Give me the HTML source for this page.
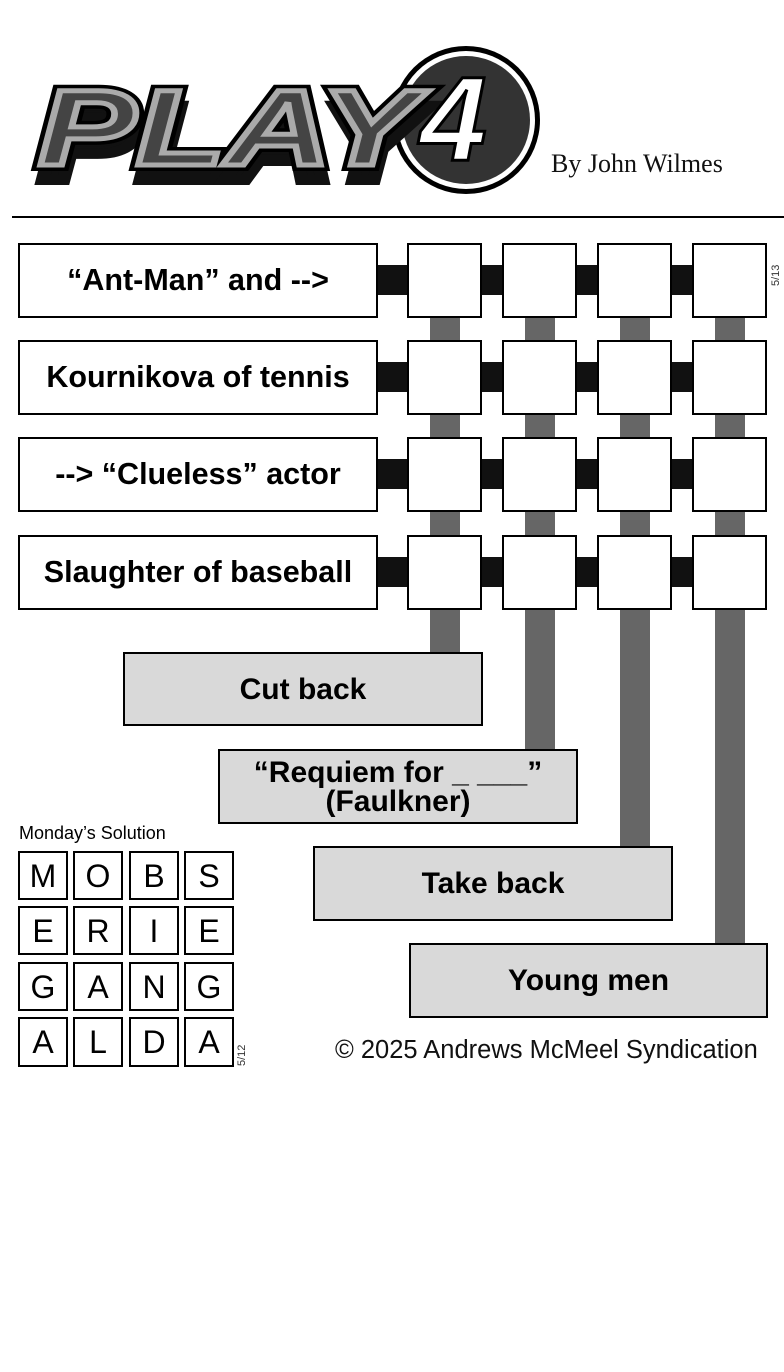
<!DOCTYPE html>
<html><head><meta charset="utf-8"><style>
body{margin:0;width:784px;height:1372px;background:#fff;position:relative;overflow:hidden;font-family:"Liberation Sans",Arial,sans-serif}
.a{position:absolute;box-sizing:border-box}
.clue{border:2px solid #000;background:#fff;display:flex;align-items:center;justify-content:center;font-weight:bold;font-size:30.5px;text-align:center;line-height:29px}
.ans{border:2px solid #000;background:#d9d9d9;display:flex;align-items:center;justify-content:center;font-weight:bold;font-size:30px;text-align:center;line-height:29px}
.cell{border:2px solid #000;background:#fff}
.h{background:#111}
.v{background:#666}
.s{border:2px solid #000;background:#fff;display:flex;align-items:center;justify-content:center;font-size:32px;line-height:32px}
</style></head><body>
<svg class="a" style="left:0;top:0" width="784" height="215">
<circle cx="466" cy="120" r="74" fill="#000"/>
<circle cx="466" cy="120" r="69" fill="#fff"/>
<circle cx="466" cy="120" r="64" fill="#333"/>
<g font-family="Liberation Sans" font-weight="bold" font-style="italic">
<text x="40" y="180" font-size="108" textLength="380" lengthAdjust="spacingAndGlyphs" fill="#111" stroke="#111" stroke-width="10">PLAY</text>
<text x="38" y="165" font-size="108" textLength="380" lengthAdjust="spacingAndGlyphs" fill="#444" stroke="#000" stroke-width="12">PLAY</text>
<text x="38" y="165" font-size="108" textLength="380" lengthAdjust="spacingAndGlyphs" fill="#444" stroke="#aaa" stroke-width="5">PLAY</text>
<text x="420" y="160" font-size="120" fill="#fff" stroke="#000" stroke-width="3">4</text>
</g>
<text x="551" y="172" font-family="Liberation Serif" font-size="26" fill="#111">By John Wilmes</text>
</svg>
<div class="a" style="left:12px;top:216px;width:772px;height:2px;background:#000"></div>
<div class="a" style="left:770px;font-size:11px;transform:rotate(-90deg);transform-origin:left top;top:286px;color:#333">5/13</div>

<div class="a v" style="left:430px;top:300px;width:30px;height:353px"></div>
<div class="a v" style="left:525px;top:300px;width:30px;height:450px"></div>
<div class="a v" style="left:620px;top:300px;width:30px;height:547px"></div>
<div class="a v" style="left:715px;top:300px;width:30px;height:644px"></div>

<div class="a h" style="left:370px;top:265px;width:390px;height:30px"></div>
<div class="a h" style="left:370px;top:362px;width:390px;height:30px"></div>
<div class="a h" style="left:370px;top:459px;width:390px;height:30px"></div>
<div class="a h" style="left:370px;top:557px;width:390px;height:30px"></div>

<div class="a clue" style="left:18px;top:243px;width:360px;height:75px">“Ant-Man” and --&gt;</div>
<div class="a clue" style="left:18px;top:340px;width:360px;height:75px">Kournikova of tennis</div>
<div class="a clue" style="left:18px;top:437px;width:360px;height:75px">--&gt; “Clueless” actor</div>
<div class="a clue" style="left:18px;top:535px;width:360px;height:75px">Slaughter of baseball</div>

<div class="a cell" style="left:407px;top:243px;width:75px;height:75px"></div>
<div class="a cell" style="left:502px;top:243px;width:75px;height:75px"></div>
<div class="a cell" style="left:597px;top:243px;width:75px;height:75px"></div>
<div class="a cell" style="left:692px;top:243px;width:75px;height:75px"></div>
<div class="a cell" style="left:407px;top:340px;width:75px;height:75px"></div>
<div class="a cell" style="left:502px;top:340px;width:75px;height:75px"></div>
<div class="a cell" style="left:597px;top:340px;width:75px;height:75px"></div>
<div class="a cell" style="left:692px;top:340px;width:75px;height:75px"></div>
<div class="a cell" style="left:407px;top:437px;width:75px;height:75px"></div>
<div class="a cell" style="left:502px;top:437px;width:75px;height:75px"></div>
<div class="a cell" style="left:597px;top:437px;width:75px;height:75px"></div>
<div class="a cell" style="left:692px;top:437px;width:75px;height:75px"></div>
<div class="a cell" style="left:407px;top:535px;width:75px;height:75px"></div>
<div class="a cell" style="left:502px;top:535px;width:75px;height:75px"></div>
<div class="a cell" style="left:597px;top:535px;width:75px;height:75px"></div>
<div class="a cell" style="left:692px;top:535px;width:75px;height:75px"></div>

<div class="a ans" style="left:123px;top:652px;width:360px;height:74px">Cut back</div>
<div class="a ans" style="left:218px;top:749px;width:360px;height:75px">“Requiem for _ ___”<br>(Faulkner)</div>
<div class="a ans" style="left:313px;top:846px;width:360px;height:75px">Take back</div>
<div class="a ans" style="left:409px;top:943px;width:359px;height:75px">Young men</div>

<div class="a" style="left:19px;top:823px;font-size:18px">Monday’s Solution</div>
<div class="a s" style="left:18px;top:851px;width:50px;height:49px">M</div>
<div class="a s" style="left:73px;top:851px;width:50px;height:49px">O</div>
<div class="a s" style="left:129px;top:851px;width:50px;height:49px">B</div>
<div class="a s" style="left:184px;top:851px;width:50px;height:49px">S</div>
<div class="a s" style="left:18px;top:906px;width:50px;height:49px">E</div>
<div class="a s" style="left:73px;top:906px;width:50px;height:49px">R</div>
<div class="a s" style="left:129px;top:906px;width:50px;height:49px">I</div>
<div class="a s" style="left:184px;top:906px;width:50px;height:49px">E</div>
<div class="a s" style="left:18px;top:962px;width:50px;height:49px">G</div>
<div class="a s" style="left:73px;top:962px;width:50px;height:49px">A</div>
<div class="a s" style="left:129px;top:962px;width:50px;height:49px">N</div>
<div class="a s" style="left:184px;top:962px;width:50px;height:49px">G</div>
<div class="a s" style="left:18px;top:1017px;width:50px;height:50px">A</div>
<div class="a s" style="left:73px;top:1017px;width:50px;height:50px">L</div>
<div class="a s" style="left:129px;top:1017px;width:50px;height:50px">D</div>
<div class="a s" style="left:184px;top:1017px;width:50px;height:50px">A</div>
<div class="a" style="left:236px;top:1066px;font-size:11px;transform:rotate(-90deg);transform-origin:left top;color:#333">5/12</div>

<div class="a" style="left:335px;top:1036px;font-size:25.5px;color:#111">© 2025 Andrews McMeel Syndication</div>
</body></html>
